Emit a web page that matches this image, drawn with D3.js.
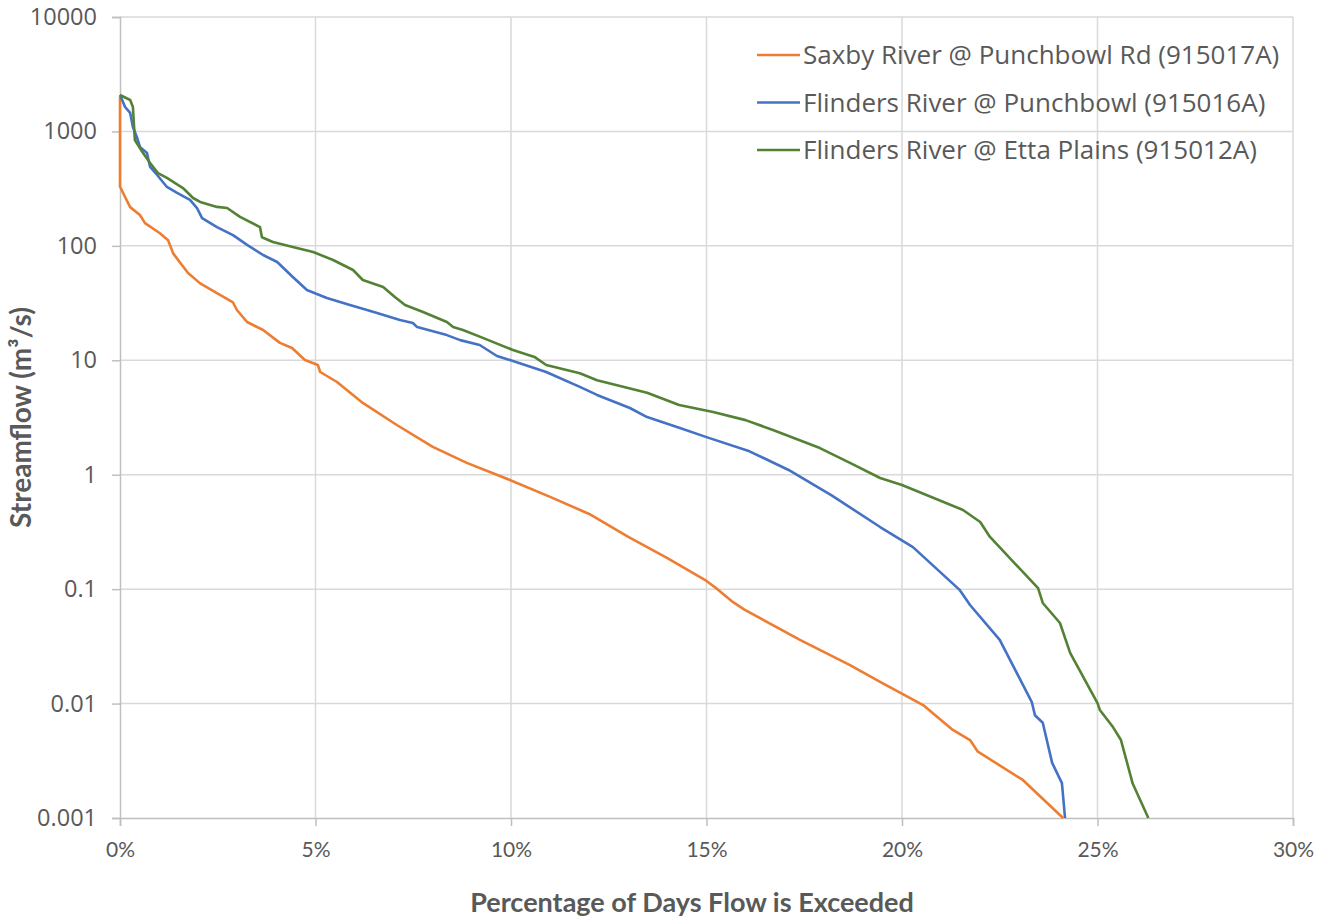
<!doctype html>
<html lang='en'>
<head>
<meta charset='UTF-8'>
<title>Flow duration curves</title>
<style>
  body { margin: 0; background: #fff; }
  svg text { fill: #595959; }
</style>
</head>
<body>
<script src='https://d3js.org/d3.v7.min.js'></script>
<script>
  // percentage of days exceeded (%) and streamflow (m3/s)
  const saxbyPct = [0, 0, 0.13, 0.26, 0.51, 0.64, 1.02, 1.23, 1.36, 1.53, 1.74, 2.05, 2.48, 2.89, 2.99, 3.25, 3.66, 4.09, 4.40, 4.73, 5.06, 5.12, 5.55, 6.21, 7.08, 8.0, 8.87, 9.97, 11.0, 12.0, 13.0, 14.0, 15.0, 15.28, 15.68, 15.98, 17.39, 18.67, 19.44, 20.54, 21.3, 21.74, 21.94, 23.09, 24.12]
  const saxbyFlow = [2000, 330, 267, 218, 186, 158, 129, 112, 86, 72, 58, 47, 38.7, 32, 27.5, 21.6, 18.4, 14.2, 12.8, 10.07, 9.1, 7.9, 6.46, 4.24, 2.72, 1.75, 1.27, 0.90, 0.64, 0.454, 0.286, 0.187, 0.118, 0.1, 0.077, 0.066, 0.036, 0.0217, 0.0155, 0.0097, 0.00588, 0.0048, 0.0038, 0.00215, 0.001]

  const punchPct = [0, 0.13, 0.26, 0.33, 0.43, 0.51, 0.69, 0.77, 0.95, 1.2, 1.46, 1.79, 1.97, 2.1, 2.48, 2.89, 3.25, 3.66, 4.02, 4.42, 4.78, 5.29, 5.88, 6.47, 7.16, 7.49, 7.6, 8.36, 8.7, 9.2, 9.64, 10.05, 10.9, 11.76, 12.2, 13.04, 13.48, 14.32, 15.0, 16.1, 17.1, 18.2, 19.44, 20.28, 21.48, 21.74, 22.5, 23.32, 23.4, 23.6, 23.84, 24.09, 24.17]
  const punchFlow = [2080, 1635, 1450, 1093, 894, 731, 648, 489, 416, 327, 290, 252, 214, 175, 146, 124, 102, 83.2, 72.3, 53.4, 41.1, 35.0, 30.4, 26.5, 22.5, 21.2, 19.5, 16.6, 15.0, 13.6, 10.9, 9.86, 7.9, 5.85, 4.98, 3.83, 3.19, 2.56, 2.13, 1.6, 1.1, 0.66, 0.349, 0.233, 0.098, 0.0727, 0.036, 0.0103, 0.0079, 0.0068, 0.00303, 0.00202, 0.001]

  const ettaPct = [0, 0.26, 0.33, 0.38, 0.59, 0.77, 0.97, 1.2, 1.61, 1.87, 2.05, 2.48, 2.74, 3.07, 3.58, 3.63, 3.91, 4.42, 4.94, 5.45, 5.96, 6.21, 6.73, 7.03, 7.29, 7.75, 8.36, 8.52, 8.77, 9.28, 10.05, 10.6, 10.9, 11.76, 12.2, 13.48, 14.3, 15.17, 16.0, 16.7, 17.9, 18.67, 19.44, 20.0, 21.56, 22.0, 22.25, 23.48, 23.6, 24.04, 24.3, 25.0, 25.06, 25.4, 25.6, 25.9, 26.3]
  const ettaFlow = [2080, 1883, 1635, 841, 648, 530, 433, 392, 320, 262, 242, 219, 214, 179, 146, 119, 108, 97.7, 88.4, 75.2, 61.5, 50.3, 43.7, 35.7, 30.4, 26.4, 21.6, 19.5, 18.4, 15.7, 12.3, 10.7, 9.1, 7.7, 6.7, 5.2, 4.07, 3.53, 3.0, 2.46, 1.71, 1.27, 0.936, 0.813, 0.492, 0.386, 0.286, 0.102, 0.0757, 0.0506, 0.0277, 0.0101, 0.0088, 0.0062, 0.0048, 0.0020, 0.001]

  const seriesNames = ['Saxby River @ Punchbowl Rd (915017A)', 'Flinders River @ Punchbowl (915016A)', 'Flinders River @ Etta Plains (915012A)']
  const seriesColors = ['#ED7D31', '#4472C4', '#548235']
  const xTicks = [0, 5, 10, 15, 20, 25, 30]
  const yTicks = [0.001, 0.01, 0.1, 1, 10, 100, 1000, 10000]

  const series = [
    { pct: saxbyPct, flow: saxbyFlow },
    { pct: punchPct, flow: punchFlow },
    { pct: ettaPct, flow: ettaFlow }
  ].map((s, i) => ({
    name: seriesNames[i],
    color: seriesColors[i],
    points: s.pct.map((p, j) => [p, s.flow[j]])
  }))

  const W = 1330
  const H = 922
  const plotLeft = 120, plotRight = 1293, plotTop = 17, plotBottom = 818

  const svg = d3.select('body').append('svg')
    .attr('width', W)
    .attr('height', H)

  const x = d3.scaleLinear().domain([0, 30]).range([plotLeft, plotRight])
  const y = d3.scaleLog().domain([0.001, 10000]).range([plotBottom, plotTop])

  // grid
  svg.append('g')
    .selectAll('line')
    .data(yTicks.filter(d => d > 0.001))
    .join('line')
    .attr('x1', plotLeft).attr('x2', plotRight)
    .attr('y1', d => y(d)).attr('y2', d => y(d))
    .attr('stroke', '#d9d9d9').attr('stroke-width', 1.5)

  svg.append('g')
    .selectAll('line')
    .data(xTicks.filter(d => d > 0))
    .join('line')
    .attr('x1', d => x(d)).attr('x2', d => x(d))
    .attr('y1', plotTop).attr('y2', plotBottom)
    .attr('stroke', '#d9d9d9').attr('stroke-width', 1.5)

  // axes
  const xAxis = svg.append('g')
    .attr('transform', `translate(0,${plotBottom})`)
    .call(d3.axisBottom(x).tickValues(xTicks).tickFormat(d => d + '%').tickSize(8).tickPadding(16))
  const yAxis = svg.append('g')
    .attr('transform', `translate(${plotLeft},0)`)
    .call(d3.axisLeft(y).tickValues(yTicks).tickFormat(d => String(d)).tickSize(8).tickPadding(15))

  ;[xAxis, yAxis].forEach(g => {
    g.select('.domain').attr('stroke', '#bfbfbf').attr('stroke-width', 1.5)
    g.selectAll('.tick line').attr('stroke', '#bfbfbf').attr('stroke-width', 1.5)
  })
  xAxis.selectAll('.tick text')
    .style('font-family', 'Lato, sans-serif')
    .style('font-size', '21px')
  yAxis.selectAll('.tick text')
    .style('font-family', "'Open Sans', sans-serif")
    .style('font-size', '23.5px')

  // lines
  const line = d3.line()
    .x(d => x(d[0]))
    .y(d => y(d[1]))

  svg.append('g')
    .selectAll('path')
    .data(series)
    .join('path')
    .attr('d', d => line(d.points))
    .attr('fill', 'none')
    .attr('stroke', d => d.color)
    .attr('stroke-width', 2.6)
    .attr('stroke-linejoin', 'round')

  // legend
  const legend = svg.append('g')
    .selectAll('g')
    .data(series)
    .join('g')
    .attr('transform', (d, i) => `translate(757,${55 + i * 47.5})`)

  legend.append('line')
    .attr('x1', 0).attr('x2', 43)
    .attr('stroke', d => d.color)
    .attr('stroke-width', 2.6)

  legend.append('text')
    .attr('x', 46)
    .attr('dy', '0.35em')
    .style('font-family', "'Open Sans', sans-serif")
    .style('font-size', '26px')
    .text(d => d.name)

  // axis titles
  svg.append('text')
    .attr('x', 692)
    .attr('y', 912)
    .attr('text-anchor', 'middle')
    .style('font-family', 'Lato, sans-serif')
    .style('font-size', '27px')
    .style('font-weight', 'bold')
    .text('Percentage of Days Flow is Exceeded')

  svg.append('text')
    .attr('transform', `translate(31,${(plotTop + plotBottom) / 2}) rotate(-90)`)
    .attr('text-anchor', 'middle')
    .style('font-family', 'Lato, sans-serif')
    .style('font-size', '28px')
    .style('font-weight', 'bold')
    .text('Streamflow (m³/s)')
</script>
</body>
</html>
